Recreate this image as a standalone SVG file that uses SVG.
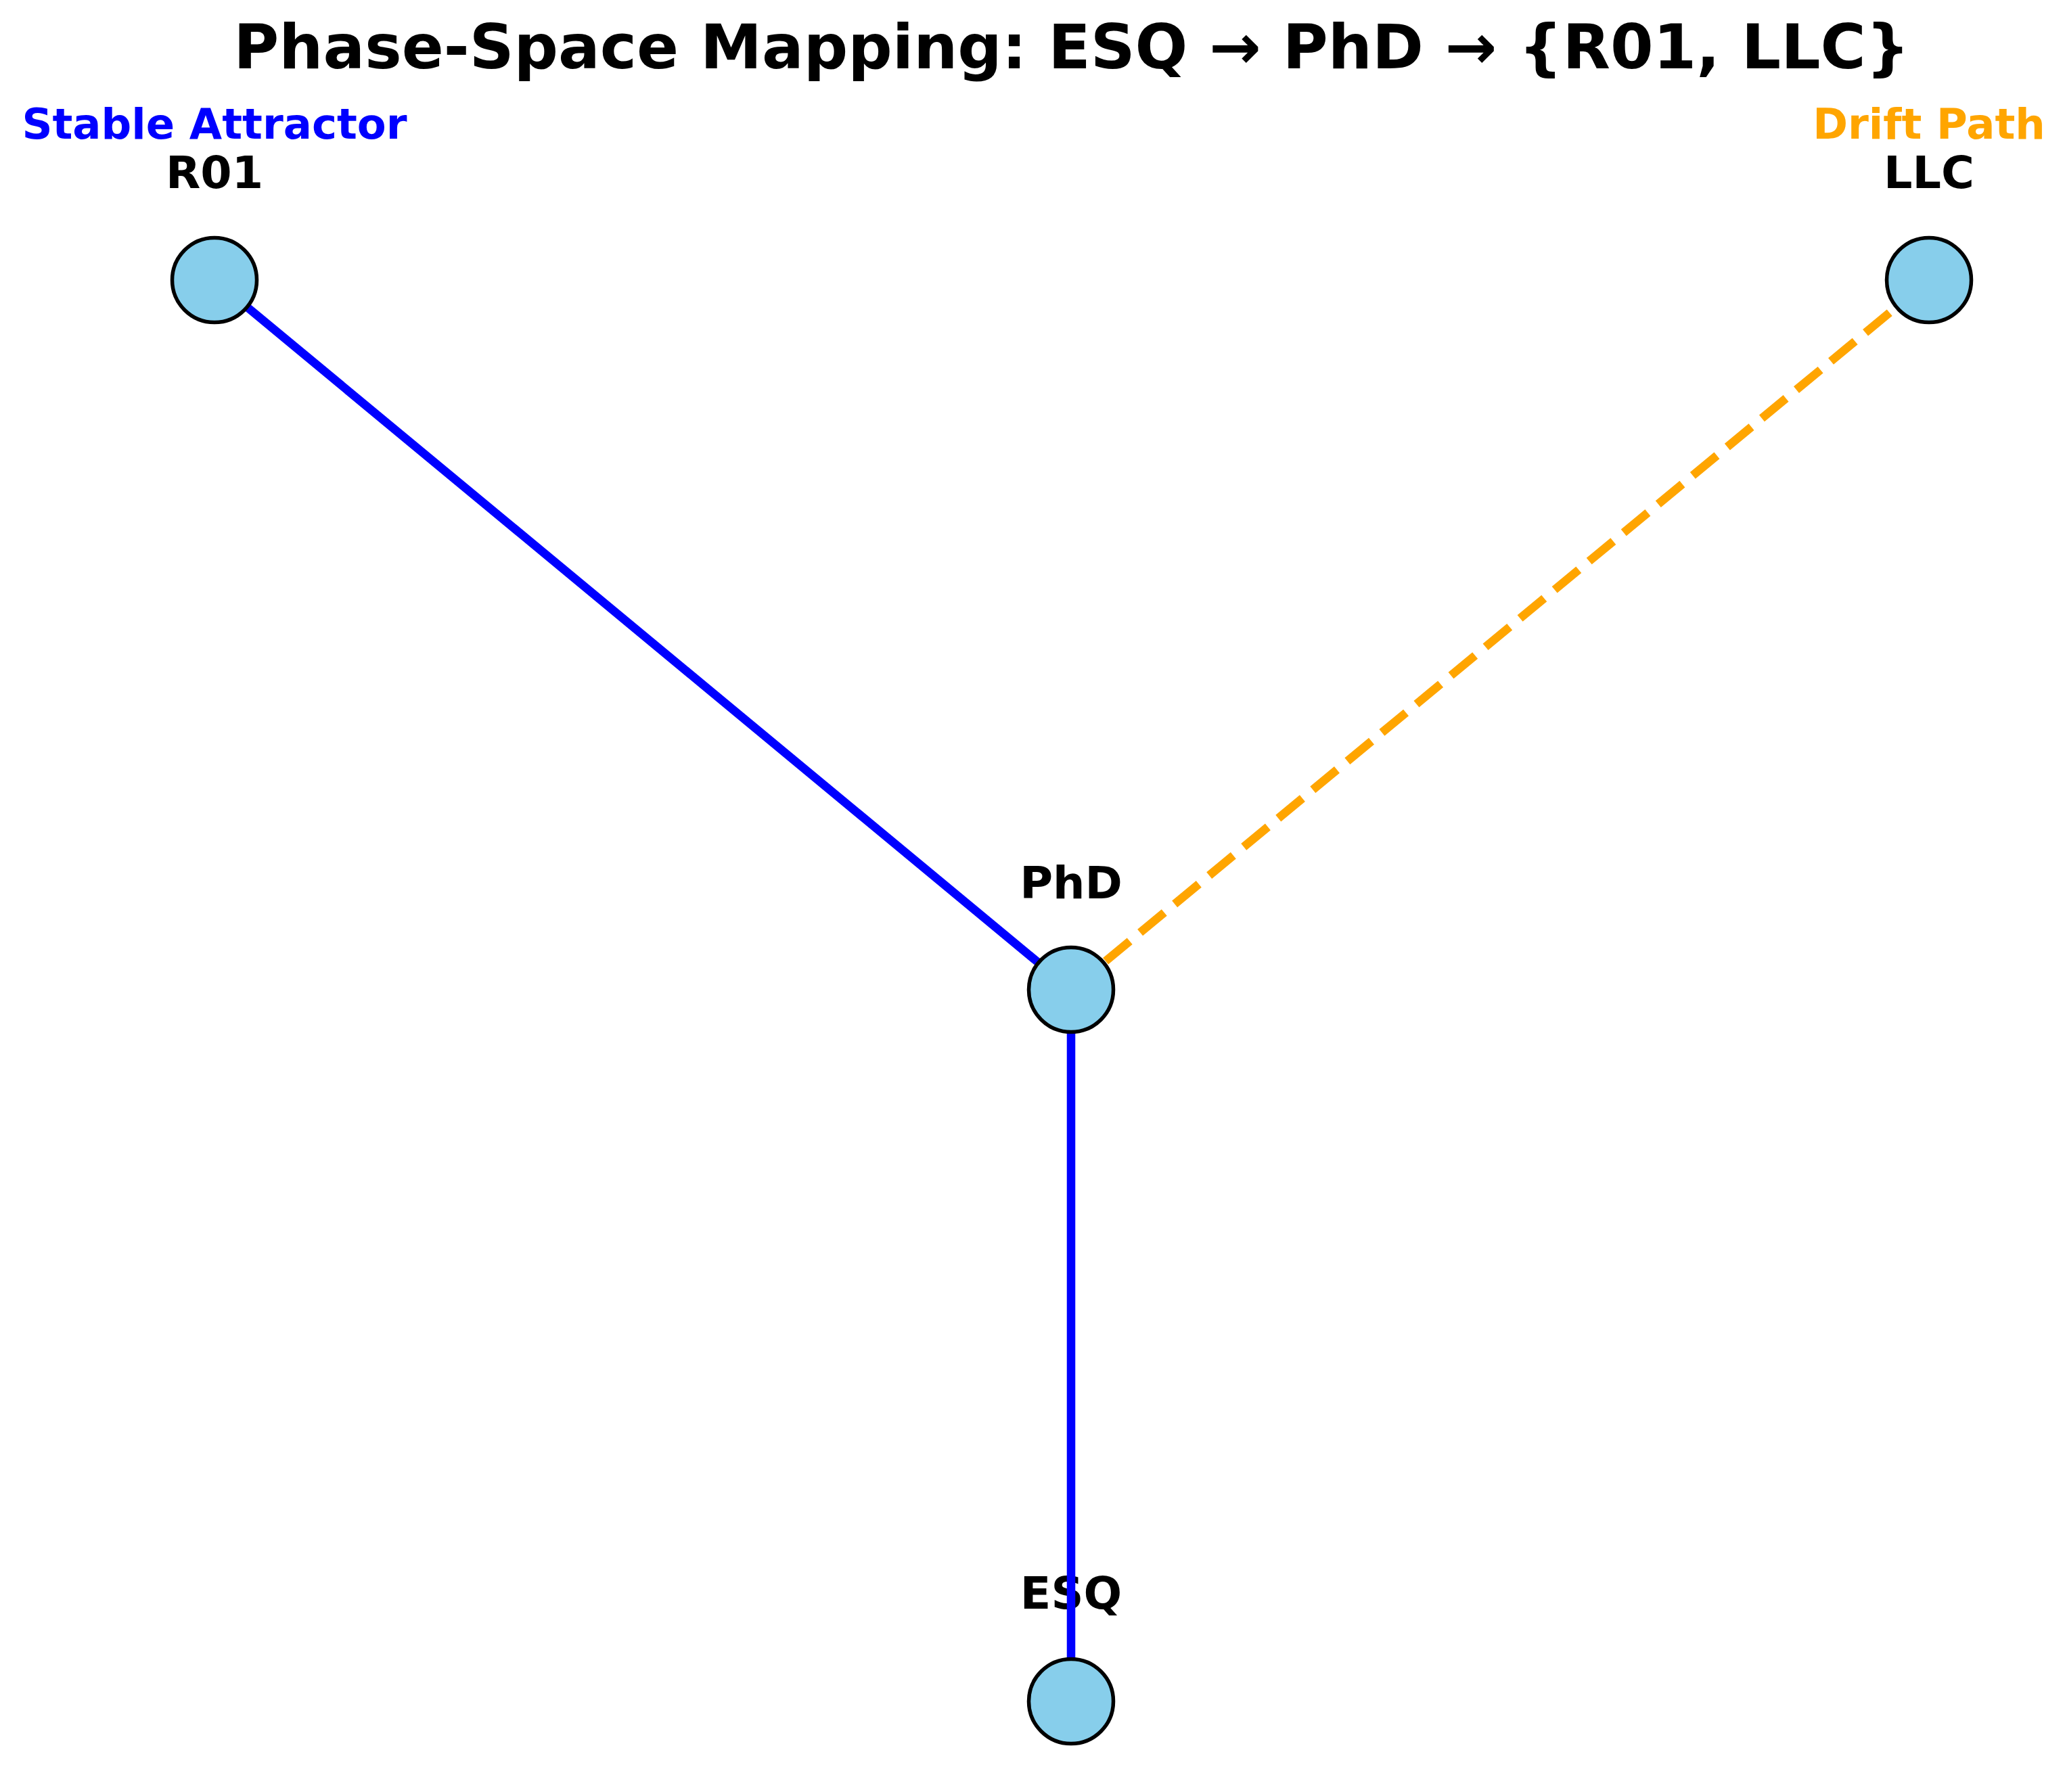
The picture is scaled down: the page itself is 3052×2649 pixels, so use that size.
<svg xmlns="http://www.w3.org/2000/svg" width="3052" height="2649" viewBox="0 0 3052 2649">
<style>
text{font-family:"DejaVu Sans","Liberation Sans",sans-serif;font-weight:bold;text-anchor:middle}
.title{font-size:91.5px;fill:#000}
.lbl{font-size:66.7px;fill:#000}
.ann{font-size:62.5px}
.node{fill:#87CEEB;stroke:#000;stroke-width:5.5}
.edge{stroke-width:12.5;fill:none;stroke-linecap:butt}
.solid{stroke:#0000FF}
.dash{stroke:#FFA500;stroke-dasharray:46.25 20}
</style>
<rect x="0" y="0" width="3052" height="2649" fill="#fff"/>
<text class="title" x="1584" y="101">Phase-Space Mapping: ESQ → PhD → {R01, LLC}</text>
<g id="labels">
<text class="lbl" x="317" y="278">R01</text>
<text class="lbl" x="2851" y="278">LLC</text>
<text class="lbl" x="1583" y="1328">PhD</text>
<text class="lbl" x="1583" y="2378">ESQ</text>
<text class="ann" x="317" y="205" fill="#0000FF">Stable Attractor</text>
<text class="ann" x="2851" y="205" fill="#FFA500">Drift Path</text>
</g>
<g id="connectors">
<line class="edge solid" x1="1583" y1="2515" x2="1583" y2="1463"/>
<line class="edge solid" x1="1583" y1="1463" x2="317" y2="414"/>
<line class="edge dash" x1="1583" y1="1463" x2="2851" y2="414"/>
</g>
<g id="node-R01"><circle class="node" cx="317" cy="414" r="62.5"/></g>
<g id="node-LLC"><circle class="node" cx="2851" cy="414" r="62.5"/></g>
<g id="node-PhD"><circle class="node" cx="1583" cy="1463" r="62.5"/></g>
<g id="node-ESQ"><circle class="node" cx="1583" cy="2515" r="62.5"/></g>
</svg>
